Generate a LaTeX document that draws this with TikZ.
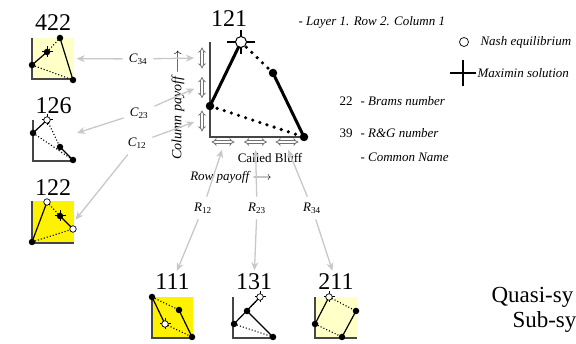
\documentclass[tikz,border=0pt]{standalone}
\usepackage{fontspec}
\setmainfont{Liberation Serif}
\usetikzlibrary{arrows.meta, positioning}

\definecolor{paleyel}{RGB}{255,255,200}
\definecolor{axisgray}{RGB}{70,70,70}
\definecolor{conngray}{RGB}{200,200,200}

% one small game icon: name, centre, fill, four outcome points
\newcommand{\gameicon}[7]{%
  \node[iconbox, fill=#3] (#1) at (#2) {};
  \draw[axisln] (#1.north west) -- (#1.south west) -- (#1.south east);
  \draw[solidln] (#4) -- (#5);
  \draw[dotln] (#5) -- (#6);
  \draw[solidln] (#6) -- (#7);
  \draw[dotln] (#4) -- (#7);
}
\newcommand{\smallcross}[1]{\draw[line width=1pt] (#1) +(-5.5,0) -- +(5.5,0) (#1) +(0,-5.5) -- +(0,5.5);}

\begin{document}
\begin{tikzpicture}[
        x=1pt, y=-1pt,
        font=\fontsize{13}{15}\selectfont,
        numlbl/.style={font=\fontsize{24}{24}\selectfont, inner sep=0pt},
        iconbox/.style={rectangle, minimum size=41pt, inner sep=0pt},
        bigbox/.style={rectangle, minimum size=95pt, inner sep=0pt},
        axisln/.style={draw=axisgray, line width=1.8pt},
        solidln/.style={line width=1.2pt},
        dotln/.style={line width=1.1pt, dotted},
        bigsolid/.style={line width=3pt},
        bigdots/.style={line width=3.6pt, line cap=round, dash pattern=on 0pt off 7.5pt},
        fdot/.style={circle, fill=black, inner sep=0pt, minimum size=6.5pt},
        odot/.style={circle, draw=black, fill=white, inner sep=0pt, minimum size=6.5pt, line width=0.7pt},
        conn/.style={draw=conngray, line width=1.3pt, -{Stealth[length=8pt, width=7pt, inset=2.5pt]}, shorten >=3pt},
        clbl/.style={inner sep=6pt},
        dblarr/.style={draw=black!55, double=white, double distance=1.8pt, line width=0.8pt, {Implies[]}-{Implies[]}},
    ]
    \useasboundingbox (0,0) rectangle (576,344);
    \clip (0,0) rectangle (576,344);

    % Main game 121
    \node[bigbox] (g121) at (257.5,89.5) {};
    \draw[axisln, line width=2.4pt] (g121.north west) -- (g121.south west) -- (g121.south east);
    \coordinate (a1) at (210,106);
    \coordinate (a2) at (241,42);
    \coordinate (a3) at (273,73);
    \coordinate (a4) at (304,137);
    \draw[bigsolid] (a1) -- (a2);
    \draw[bigdots] (a2) -- (a3);
    \draw[bigsolid] (a3) -- (a4);
    \draw[bigdots] (a1) -- (a4);
    \draw[line width=2pt] (a2) +(-14,0) -- +(14,0) (a2) +(0,-12) -- +(0,12);
    \foreach \p in {a1,a3,a4} \node[fdot, minimum size=8.5pt] at (\p) {};
    \node[odot, minimum size=11pt, line width=1pt] at (a2) {};
    \node[numlbl] (n121) at (229,19) {121};

    % payoff arrows along the axes
    \foreach \y/\n in {58/1, 87.5/2, 121/3} {
        \draw[dblarr] (202,\y-10.5) -- (202,\y+10.5);
        \coordinate (col\n) at (197,\y);
    }
    \foreach \x/\n in {223/1, 255.5/2, 287/3} {
        \draw[dblarr] (\x-11.5,142) -- (\x+11.5,142);
        \coordinate (row\n) at (\x,147);
    }
    \node[rotate=90, font=\fontsize{14}{16}\selectfont\itshape] (colpay) at (178,105) {Column payoff $\longrightarrow$};
    \node (bluff) at (270,158) {Called Bluff};
    \node[font=\fontsize{13}{15}\selectfont\itshape] (rowpay) at (231,177) {Row payoff $\longrightarrow$};

    % Column neighbours
    \gameicon{g422}{53,58.5}{paleyel}{32,65}{47,52}{60,38}{73,80}
    \smallcross{47,52}
    \foreach \p in {{32,65},{47,52},{60,38},{73,80}} \node[fdot] at (\p) {};
    \node[numlbl, above=7pt of g422] (n422) {422};

    \gameicon{g126}{53.5,140.5}{none}{33,133}{47,120}{60,147}{73,160}
    \smallcross{47,120}
    \foreach \p in {{33,133},{60,147},{73,160}} \node[fdot] at (\p) {};
    \node[odot] at (47,120) {};
    \node[numlbl, above=6pt of g126] (n126) {126};

    \gameicon{g122}{53,222}{yellow}{32,242}{47,202}{60,216}{73,229}
    \smallcross{60,216}
    \foreach \p in {{32,242},{60,216}} \node[fdot] at (\p) {};
    \foreach \p in {{47,202},{73,229}} \node[odot] at (\p) {};
    \node[numlbl, above=6pt of g122] (n122) {122};

    % Row neighbours
    \gameicon{g111}{172.5,317.5}{yellow}{152,297}{165,324}{192,337}{179,310}
    \smallcross{165,324}
    \foreach \p in {{152,297},{192,337},{179,310}} \node[fdot] at (\p) {};
    \node[odot] at (165,324) {};
    \node[numlbl, above=7pt of g111] (n111) {111};

    \gameicon{g131}{254,317.5}{none}{234,324}{260,297}{247,311}{273,337}
    \smallcross{260,297}
    \foreach \p in {{234,324},{247,311},{273,337}} \node[fdot] at (\p) {};
    \node[odot] at (260,297) {};
    \node[numlbl, above=7pt of g131] (n131) {131};

    \gameicon{g211}{336,317.5}{paleyel}{315,324}{329,297}{356,311}{342,337}
    \smallcross{329,297}
    \foreach \p in {{315,324},{356,311},{342,337}} \node[fdot] at (\p) {};
    \node[odot] at (329,297) {};
    \node[numlbl, above=7pt of g211] (n211) {211};

    % Swap labels
    \node[clbl] (c34) at (138,59) {\textit{C}\textsubscript{34}};
    \node[clbl] (c23) at (139,113) {\textit{C}\textsubscript{23}};
    \node[clbl] (c12) at (137,143) {\textit{C}\textsubscript{12}};
    \node[clbl] (r12) at (203,208) {\textit{R}\textsubscript{12}};
    \node[clbl] (r23) at (257,208) {\textit{R}\textsubscript{23}};
    \node[clbl] (r34) at (312,208) {\textit{R}\textsubscript{34}};

    % Edges
    \draw[conn] (c34) -- (g422);
    \draw[conn] (c34) -- (col1);
    \draw[conn] (c23) -- (g126);
    \draw[conn] (c23) -- (col2);
    \draw[conn] (c12) -- (g122.east);
    \draw[conn] (c12) -- (col3);
    \draw[conn] (r12) -- (row1);
    \draw[conn] (r12) -- (n111);
    \draw[conn] (r23) -- (row2);
    \draw[conn] (r23) -- (n131);
    \draw[conn] (r34) -- (row3);
    \draw[conn] (r34) -- (n211);

    % Legend
    \node[anchor=west, font=\fontsize{13}{15}\selectfont\itshape] (layer) at (295,22) {- Layer 1. Row 2. Column 1};
    \node[odot, minimum size=9pt] (nashmk) at (464,42) {};
    \node[anchor=west, font=\fontsize{13}{15}\selectfont\itshape] (nash) at (477,42) {Nash equilibrium};
    \coordinate (maxmk) at (463,73);
    \draw[line width=1.8pt] (maxmk) +(-13,0) -- +(13,0) (maxmk) +(0,-13) -- +(0,13);
    \node[anchor=west, font=\fontsize{13}{15}\selectfont\itshape] (maxmin) at (474,73) {Maximin solution};
    \node (brams) at (346,101) {22};
    \node[anchor=west, font=\fontsize{13}{15}\selectfont\itshape] (bramst) at (357,101) {- Brams number};
    \node (rgnum) at (346,133) {39};
    \node[anchor=west, font=\fontsize{13}{15}\selectfont\itshape] (rgt) at (357,133) {- R\&G number};
    \node[anchor=west, font=\fontsize{13}{15}\selectfont\itshape] (cname) at (357,157) {- Common Name};

    % Class names
    \node[anchor=west, font=\fontsize{23}{23}\selectfont] (quasi) at (488,297) {Quasi-sy};
    \node[anchor=west, font=\fontsize{23}{23}\selectfont] (subsym) at (509,322) {Sub-sy};
\end{tikzpicture}
\end{document}
